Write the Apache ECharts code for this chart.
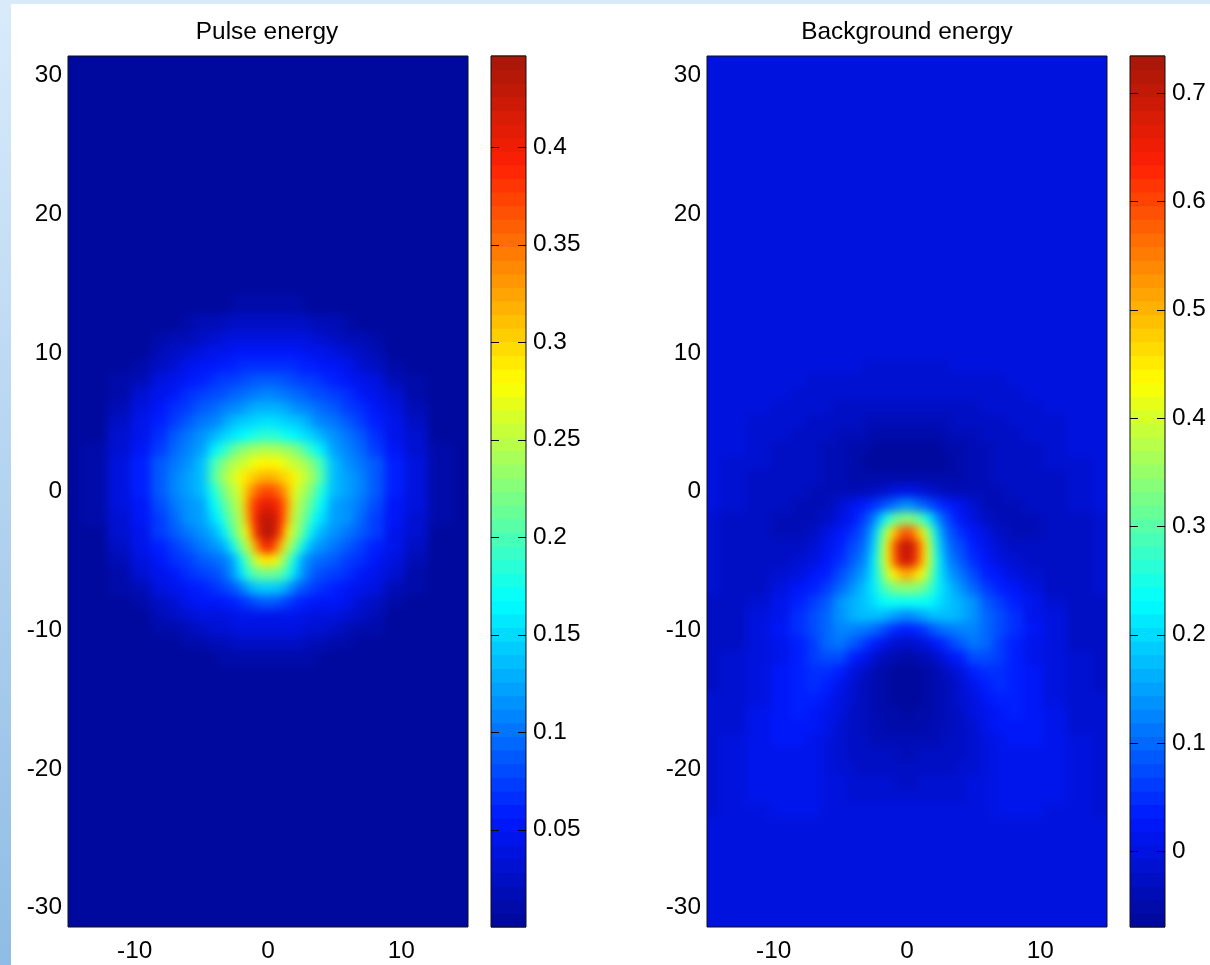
<!DOCTYPE html>
<html><head><meta charset="utf-8">
<style>
html,body{margin:0;padding:0;background:#fff;width:1210px;height:965px;overflow:hidden}
#strip-left{position:absolute;left:0;top:0;width:11px;height:965px;background:linear-gradient(to bottom,#d9ebfb,#8fbce4)}
#strip-top{position:absolute;left:0;top:0;width:1210px;height:4px;background:#d9ebfb}
#main{position:absolute;left:0;top:0;width:1210px;height:965px}
</style>
<script src="https://cdn.jsdelivr.net/npm/echarts@6/dist/echarts.min.js"></script>
</head><body>
<div id="strip-left"></div><div id="strip-top"></div><div id="main"></div>
<script>
// Half-plane sample columns (the picture is left-right symmetric); values are in thousandths.
const halfX = [0,.5,1,1.5,2,2.5,3,3.5,4,5,6,7,8,9.5,11,13,15];
const pulseY = [31,20,15,13.5,12,11,10,9,8,7,6,5,4,3,2,1,0,-1,-2,-3,-4,-5,-6,-7,-8,-9,-10,-11,-12,-13.5,-15,-20,-31];
const pulseHalf = [
[0,0,0,0,0,0,0,0,0,0,0,0,0,0,0,0,0],
[0,0,0,0,0,0,0,0,0,0,0,0,0,0,0,0,0],
[1,1,1,1,1,1,0,0,0,0,0,0,0,0,0,0,0],
[9,9,9,8,8,7,6,5,4,1,0,0,0,0,0,0,0],
[26,26,26,25,24,23,21,20,18,15,10,5,1,0,0,0,0],
[41,41,40,39,38,37,36,34,31,25,19,14,7,1,0,0,0],
[53,53,53,52,51,50,48,46,44,38,31,23,16,5,0,0,0],
[68,67,66,64,63,61,60,57,55,50,42,34,25,13,1,0,0],
[88,87,85,82,79,76,73,70,67,60,52,44,36,20,7,0,0],
[108,107,104,100,96,92,87,82,78,72,63,53,44,28,13,0,0],
[132,130,127,122,116,111,105,98,92,85,74,63,52,35,19,1,0],
[155,153,150,146,140,133,126,118,110,98,85,72,59,42,22,4,0],
[185,183,178,172,165,158,150,140,130,112,99,85,66,47,28,6,0],
[245,243,240,235,228,215,195,178,160,125,108,94,76,52,32,8,0],
[285,282,275,265,255,245,236,222,195,135,118,104,84,57,35,11,0],
[320,315,305,295,283,265,250,235,200,137,124,110,88,60,37,12,0],
[370,365,345,315,270,245,232,215,180,135,124,110,90,62,38,12,0],
[405,400,380,335,265,235,222,195,165,125,115,104,80,55,35,10,0],
[435,425,390,320,250,228,205,172,150,125,112,97,76,52,32,9,0],
[440,425,375,280,240,220,180,150,130,115,103,88,70,48,28,6,0],
[400,375,310,250,222,175,140,122,112,102,90,76,62,44,23,4,0],
[300,285,245,215,170,130,108,98,92,87,76,65,54,37,19,1,0],
[215,213,205,185,150,120,100,90,82,74,65,55,44,30,13,0,0],
[145,142,135,120,103,88,78,72,66,60,54,44,36,20,7,0,0],
[85,84,80,75,67,60,56,54,52,50,42,34,25,13,2,0,0],
[48,47,46,45,44,43,41,39,37,37,30,22,16,5,0,0,0],
[40,40,39,38,37,36,34,32,30,24,19,13,7,1,0,0,0],
[23,23,23,22,22,21,19,18,17,13,8,4,0,0,0,0,0],
[13,13,13,12,12,11,9,8,6,4,1,0,0,0,0,0,0],
[1,1,1,1,1,1,1,0,0,0,0,0,0,0,0,0,0],
[0,0,0,0,0,0,0,0,0,0,0,0,0,0,0,0,0],
[0,0,0,0,0,0,0,0,0,0,0,0,0,0,0,0,0],
[0,0,0,0,0,0,0,0,0,0,0,0,0,0,0,0,0]
];
const backgroundY = [31,20,12,10,9,8,7,6,5,4,3,2,1,0,-1,-2,-3,-4,-5,-6,-7,-8,-9,-10,-11,-12,-13,-14,-15,-16,-17,-18,-19,-20,-21,-22,-23,-24,-25,-31];
const backgroundHalf = [
[0,0,0,0,0,0,0,0,0,0,0,0,0,0,0,0,0],
[0,0,0,0,0,0,0,0,0,0,0,0,0,0,0,0,0],
[0,0,0,0,0,0,0,0,0,0,0,0,0,0,0,0,0],
[-2,-2,-2,-2,-2,-2,-2,-2,-2,-1,-1,0,0,0,0,0,0],
[-8,-8,-8,-8,-8,-8,-8,-7,-7,-6,-5,-4,-3,-1,0,0,0],
[-14,-14,-14,-14,-13,-13,-13,-12,-12,-11,-10,-8,-6,-3,0,0,0],
[-19,-19,-19,-19,-18,-18,-18,-18,-17,-16,-14,-12,-10,-6,-2,0,0],
[-27,-27,-27,-26,-26,-25,-25,-24,-23,-21,-19,-17,-14,-10,-5,0,0],
[-36,-36,-36,-35,-35,-34,-33,-32,-31,-27,-24,-22,-19,-14,-8,-2,0],
[-50,-50,-49,-48,-47,-45,-44,-42,-40,-34,-29,-26,-23,-18,-12,-4,0],
[-66,-65,-64,-63,-62,-60,-56,-53,-50,-40,-33,-29,-26,-21,-16,-7,-1],
[-70,-70,-68,-67,-66,-64,-60,-57,-54,-42,-35,-30,-27,-23,-19,-10,-2],
[-45,-45,-47,-50,-52,-54,-54,-53,-50,-41,-36,-32,-29,-26,-22,-13,-4],
[8,4,-4,-12,-22,-30,-38,-42,-44,-42,-38,-34,-31,-27,-24,-16,-5],
[131,125,105,85,65,48,38,22,8,-18,-38,-38,-36,-30,-26,-18,-6],
[332,325,300,250,170,110,78,50,30,0,-25,-35,-40,-33,-28,-20,-8],
[590,560,470,380,260,160,105,75,55,22,-5,-22,-42,-36,-30,-22,-10],
[715,680,560,420,290,185,120,92,70,35,8,-10,-25,-32,-28,-24,-12],
[700,660,550,420,300,215,140,110,82,55,22,2,-15,-26,-28,-25,-14],
[510,490,440,370,290,210,165,138,112,75,42,18,0,-18,-27,-26,-16],
[340,335,320,300,260,215,185,160,138,98,65,38,18,-5,-20,-26,-18],
[235,235,235,235,225,200,185,175,165,131,90,60,38,6,-14,-27,-20],
[130,135,145,160,170,175,175,170,160,140,105,72,50,15,-5,-24,-20],
[35,40,50,65,85,100,110,118,125,130,105,75,52,25,-5,-24,-24],
[-20,-15,-8,2,18,35,55,72,90,115,95,68,42,15,-6,-22,-28],
[-48,-46,-42,-35,-25,-10,8,25,42,78,75,60,42,16,-3,-18,-26],
[-62,-60,-58,-54,-50,-42,-25,-12,2,35,55,52,42,20,0,-15,-22],
[-68,-66,-62,-56,-50,-44,-36,-22,-8,15,38,46,42,24,2,-13,-20],
[-66,-65,-62,-57,-50,-44,-37,-28,-16,3,25,38,40,27,5,-11,-18],
[-58,-57,-55,-52,-48,-43,-37,-30,-22,-4,15,30,36,28,7,-9,-16],
[-50,-49,-48,-46,-44,-40,-35,-30,-24,-8,8,22,30,25,8,-8,-14],
[-42,-41,-40,-38,-36,-34,-31,-28,-24,-10,4,15,22,20,8,-7,-13],
[-34,-33,-32,-31,-30,-29,-27,-24,-20,-9,2,11,17,16,8,-6,-12],
[-26,-26,-25,-25,-24,-23,-22,-20,-17,-8,1,9,13,13,8,-5,-11],
[-20,-20,-19,-19,-19,-18,-17,-15,-13,-6,1,8,11,12,7,-3,-10],
[-13,-13,-13,-12,-12,-11,-10,-9,-8,-4,1,7,9,10,6,-2,-9],
[-3,-3,-3,-3,-3,-3,-3,-3,-2,-1,1,6,8,8,4,-1,-9],
[0,0,0,0,0,0,0,0,0,0,0,3,4,4,2,0,-6],
[0,0,0,0,0,0,0,0,0,0,0,0,0,0,0,0,0],
[0,0,0,0,0,0,0,0,0,0,0,0,0,0,0,0,0]
];
const xTicks = [-10,0,10];
const yTicks = [-30,-20,-10,0,10,20,30];
const pulseBarTicks = [0.05,0.1,0.15,0.2,0.25,0.3,0.35,0.4];
const backgroundBarTicks = [0,0.1,0.2,0.3,0.4,0.5,0.6,0.7];
const pulseRange = [0,0.4467];
const backgroundRange = [-0.07,0.734];
const xRange = [-15,15];
const yRange = [-31.4,31.4];

const colorStops = [[0,0,8,150],[.125,0,24,255],[.375,0,255,255],[.625,255,255,0],[.875,255,32,4],[1,165,22,8]];
const LEVELS = 64;
function jet(t){
  t = Math.min(.9999,Math.max(0,t));
  t = (Math.floor(t*LEVELS)+.5)/LEVELS;
  for(let i=1;i<colorStops.length;i++){
    const a=colorStops[i-1],b=colorStops[i];
    if(t<=b[0]){const f=(t-a[0])/(b[0]-a[0]);
      return `rgb(${[1,2,3].map(k=>Math.round(a[k]+(b[k]-a[k])*f)).join(',')})`;}
  }
}
const mirror = r => [...r.slice(1).reverse(), ...r];
const xs = [...halfX.slice(1).reverse().map(v=>-v), ...halfX];
function edges(c){ // cell borders halfway between sample positions, outer cells overshoot the plot
  const e=[c[0]-(c[1]-c[0])/2];
  for(let i=1;i<c.length;i++) e.push((c[i-1]+c[i])/2);
  e.push(c[c.length-1]+(c[c.length-1]-c[c.length-2])/2);
  return e;
}
const xE = edges(xs);
function fieldSeries(ys,half,range,idx){
  const yE = edges(ys), data=[];
  half.forEach((r,j)=>mirror(r).forEach((v,i)=>data.push([xs[i],ys[j],v/1000,i,j])));
  return {type:'custom',xAxisIndex:idx,yAxisIndex:idx,zlevel:1,silent:true,progressive:0,animation:false,clip:false,
    data,encode:{x:0,y:1},
    renderItem(p,api){
      const i=api.value(3),j=api.value(4);
      const a=api.coord([xE[i],yE[j]]),b=api.coord([xE[i+1],yE[j+1]]);
      return {type:'rect',shape:{x:Math.min(a[0],b[0])-.5,y:Math.min(a[1],b[1])-.5,width:Math.abs(b[0]-a[0])+1,height:Math.abs(b[1]-a[1])+1},
        style:{fill:jet((api.value(2)-range[0])/(range[1]-range[0]))}};
    }};
}
function barSeries(range,idx){
  const data=[];
  for(let k=0;k<LEVELS;k++) data.push([range[0]+(range[1]-range[0])*k/LEVELS,range[0]+(range[1]-range[0])*(k+1)/LEVELS,k]);
  return {type:'custom',xAxisIndex:idx,yAxisIndex:idx,silent:true,animation:false,data,encode:{y:[0,1]},
    renderItem(p,api){
      const a=api.coord([0,api.value(0)]),b=api.coord([1,api.value(1)]);
      return {type:'rect',shape:{x:a[0],y:b[1]-.5,width:b[0]-a[0],height:a[1]-b[1]+1},
        style:{fill:jet((api.value(2)+.5)/LEVELS)}};
    }};
}
function tickSeries(ticks,idx){ // short inward ticks on both sides of a colour bar
  const LEN=8;
  return {type:'custom',xAxisIndex:idx,yAxisIndex:idx,zlevel:2,silent:true,animation:false,data:ticks.map(v=>[v]),encode:{y:0},
    renderItem(p,api){
      const l=api.coord([0,api.value(0)]),r=api.coord([1,api.value(0)]),y=Math.round(l[1])+.5;
      const st={stroke:'#000',lineWidth:1};
      return {type:'group',children:[
        {type:'line',shape:{x1:l[0],y1:y,x2:l[0]+LEN,y2:y},style:st},
        {type:'line',shape:{x1:r[0]-LEN,y1:y,x2:r[0],y2:y},style:st}]};
    }};
}
const FONT='Liberation Sans',FS=24.4,INK='#000';
const gridOf=(left,width)=>({left,width,top:56,height:871,show:true,zlevel:2,borderColor:'#111',borderWidth:1,backgroundColor:'transparent'});
const lab=(o)=>Object.assign({fontFamily:FONT,fontSize:FS,color:INK},o);
const fieldX=g=>({type:'value',gridIndex:g,min:xRange[0],max:xRange[1],zlevel:2,splitLine:{show:false},axisLine:{show:false},
  axisTick:{show:false},axisLabel:lab({customValues:xTicks,margin:12})});
const fieldY=g=>({type:'value',gridIndex:g,min:yRange[0],max:yRange[1],zlevel:2,splitLine:{show:false},axisLine:{show:false},
  axisTick:{show:false},axisLabel:lab({customValues:yTicks,margin:6})});
const barX=g=>({type:'value',gridIndex:g,min:0,max:1,show:false});
const barY=(g,r,t)=>({type:'value',gridIndex:g,min:r[0],max:r[1],position:'right',zlevel:2,splitLine:{show:false},axisLine:{show:false},
  axisTick:{show:false},axisLabel:lab({customValues:t,margin:7,formatter:v=>String(v)})});
const chart=echarts.init(document.getElementById('main'),null,{renderer:'canvas'});
chart.setOption({
  animation:false,backgroundColor:'transparent',
  title:[
    {text:'Pulse energy',left:262,top:15,textAlign:'center',textStyle:{fontFamily:FONT,fontSize:FS,fontWeight:'normal',color:INK}},
    {text:'Background energy',left:902,top:15,textAlign:'center',textStyle:{fontFamily:FONT,fontSize:FS,fontWeight:'normal',color:INK}}
  ],
  grid:[gridOf(68,400),gridOf(491,35),gridOf(707,400),gridOf(1130,35)],
  xAxis:[fieldX(0),barX(1),fieldX(2),barX(3)],
  yAxis:[fieldY(0),barY(1,pulseRange,pulseBarTicks),fieldY(2),barY(3,backgroundRange,backgroundBarTicks)],
  series:[
    fieldSeries(pulseY,pulseHalf,pulseRange,0),
    barSeries(pulseRange,1),
    fieldSeries(backgroundY,backgroundHalf,backgroundRange,2),
    barSeries(backgroundRange,3),
    tickSeries(pulseBarTicks,1),
    tickSeries(backgroundBarTicks,3)
  ]
});
// Soften the sampled cells of the field layer only, and keep the softening inside the two plots.
const layer=chart.getZr().painter.getLayer(1);
if(layer&&layer.dom){
  layer.dom.style.filter='blur(5px)';
  layer.dom.style.clipPath='path("M68 56H468V927H68Z M707 56H1107V927H707Z")';
}
</script>
</body></html>
